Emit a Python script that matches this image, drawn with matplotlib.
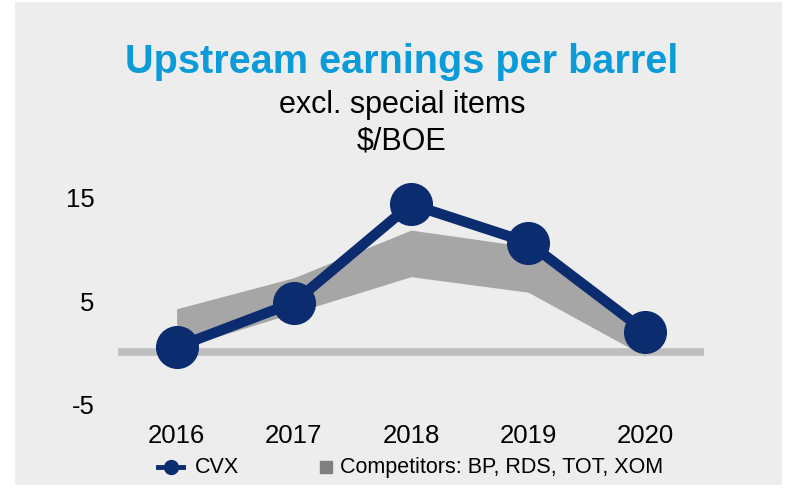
import matplotlib
matplotlib.use("Agg")
import matplotlib.pyplot as plt
from matplotlib.patches import Rectangle
from matplotlib.lines import Line2D

plt.rcParams['font.family'] = ['Liberation Sans', 'DejaVu Sans']

years = ["2016", "2017", "2018", "2019", "2020"]
cvx = [0.5, 4.8, 14.3, 10.6, 2.0]
comp_low = [0.3, 3.8, 7.3, 5.8, -0.4]
comp_high = [4.2, 7.2, 11.8, 10.2, 1.5]
y_ticks = [15, 5, -5]
legend_labels = ["CVX", "Competitors: BP, RDS, TOT, XOM"]

navy = "#0b2c6f"
bg = "#ededed"
W, H = 787, 489

fig = plt.figure(figsize=(W / 100, H / 100), dpi=100)
fig.patch.set_facecolor("white")
fig.patches.append(Rectangle((15 / W, 3 / H), 767 / W, 483 / H,
                             transform=fig.transFigure, facecolor=bg,
                             edgecolor="none", zorder=-10))

ax = fig.add_axes([118 / W, 1 - 405 / H, 586 / W, 207 / H])
ax.set_facecolor("none")
x = list(range(len(years)))

ax.fill_between(x, comp_low, comp_high, color="#a6a6a6", linewidth=0, zorder=1)
ax.axhline(0, color="#bfbfbf", linewidth=5.5, zorder=2)
ax.plot(x, cvx, color=navy, linewidth=7.5, marker="o", markersize=30,
        zorder=3, clip_on=False)

ax.set_xlim(-0.5, 4.5)
ax.set_ylim(-5, 15)
ax.set_yticks(y_ticks)
ax.set_yticklabels([str(t) for t in y_ticks], fontsize=18.5)
ax.set_xticks(x)
ax.set_xticklabels(years, fontsize=18.5)
ax.tick_params(length=0, pad=17, axis="y")
ax.tick_params(length=0, pad=14, axis="x")
for s in ax.spines.values():
    s.set_visible(False)

fig.text(402 / W, 1 - 62 / H, "Upstream earnings per barrel", color="#0a9bd8",
         fontsize=28.5, fontweight="bold", ha="center", va="center")
fig.text(402 / W, 1 - 105 / H, "excl. special items", color="black",
         fontsize=22, ha="center", va="center")
fig.text(402 / W, 1 - 141 / H, "$/BOE", color="black",
         fontsize=22, ha="center", va="center")

# legend drawn by hand to match spacing
ly = 1 - 468 / H
fig.add_artist(Line2D([158 / W, 183 / W], [ly, ly], transform=fig.transFigure,
                      color=navy, linewidth=3.5))
fig.add_artist(Line2D([170.5 / W], [ly], transform=fig.transFigure, color=navy,
                      marker="o", markersize=10, linestyle="none"))
fig.text(195 / W, ly, legend_labels[0], fontsize=15.5, ha="left", va="center")
fig.add_artist(Line2D([326 / W], [ly], transform=fig.transFigure, color="#808080",
                      marker="s", markersize=8.5, linestyle="none"))
fig.text(340 / W, ly, legend_labels[1], fontsize=15.5, ha="left", va="center")

fig.savefig("out.png", dpi=100, facecolor=fig.get_facecolor())
